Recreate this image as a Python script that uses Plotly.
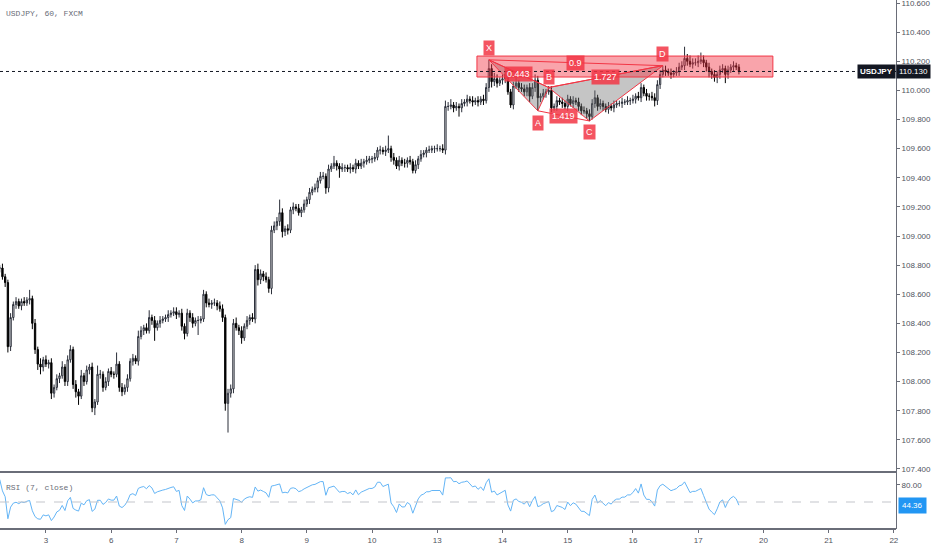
import pandas as pd
import plotly.graph_objects as go
from plotly.subplots import make_subplots

# hourly closes, USDJPY FXCM, from 2 Jan 2020 00:00 (first 7 bars sit left of the view)
closes = [
    108.62, 108.66, 108.70, 108.68, 108.74, 108.72, 108.78,
    108.78, 108.72, 108.68, 108.24, 108.44, 108.53, 108.55, 108.52, 108.55, 108.54,
    108.56, 108.57, 108.40, 108.22, 108.12, 108.10, 108.15, 108.12, 108.13, 107.92,
    107.96, 108.02, 108.04, 108.10, 108.00, 108.15, 108.22, 107.98, 107.93, 107.90,
    108.04, 108.00, 108.08, 108.10, 107.82, 107.86, 108.05, 108.05, 107.96, 108.00,
    108.07, 108.05, 108.05, 108.12, 107.96, 107.93, 107.96, 108.02, 108.14, 108.16,
    108.14, 108.31, 108.35, 108.37, 108.35, 108.44, 108.42, 108.37, 108.40, 108.42,
    108.43, 108.44, 108.46, 108.47, 108.48, 108.46, 108.47, 108.38, 108.33, 108.47,
    108.44, 108.40, 108.42, 108.42, 108.43, 108.60, 108.54, 108.53, 108.54, 108.54,
    108.52,
    108.50, 108.44, 107.85, 107.92, 107.95, 108.40, 108.37, 108.35, 108.30, 108.38,
    108.42, 108.44, 108.43, 108.77, 108.70, 108.74, 108.72, 108.70, 108.64, 109.04,
    109.07, 109.10, 109.16, 109.03, 109.05, 109.04,
    109.18, 109.20, 109.19, 109.16, 109.18, 109.22, 109.25, 109.30, 109.32, 109.33,
    109.38, 109.41, 109.41, 109.33, 109.46, 109.48, 109.50, 109.48, 109.46, 109.47,
    109.47, 109.46, 109.47, 109.46, 109.50, 109.48, 109.50, 109.51, 109.52, 109.53,
    109.53, 109.54, 109.59, 109.59, 109.58, 109.59, 109.60, 109.54, 109.52, 109.48,
    109.52, 109.50, 109.50, 109.52, 109.51, 109.45, 109.49, 109.53, 109.56, 109.57,
    109.59, 109.59, 109.60, 109.60, 109.60, 109.60, 109.59, 109.89, 109.89, 109.90,
    109.88, 109.89, 109.88, 109.91, 109.92, 109.94, 109.93, 109.92, 109.93, 109.92,
    109.94, 109.93, 110.02, 110.15, 110.06, 110.08, 110.05, 110.07, 110.08, 110.11,
    109.99, 109.90, 110.03, 110.05, 110.02, 110.01, 109.99, 110.02, 109.96, 110.02,
    110.07, 109.95, 109.96, 109.98, 109.99, 110.00, 109.88, 109.89, 109.93, 109.92,
    109.91, 109.89, 109.94, 109.91, 109.93, 109.92, 109.89,
    109.86, 109.86, 109.84, 109.82, 109.91, 109.95, 109.89, 109.91, 109.89, 109.87,
    109.89, 109.88, 109.90, 109.91, 109.91, 109.92, 109.92, 109.93, 109.93, 109.94,
    109.96, 109.95, 110.02, 109.98, 109.96, 109.96, 109.95, 109.93, 110.04, 110.11,
    110.14, 110.13, 110.12, 110.11, 110.12, 110.13, 110.16, 110.17, 110.22, 110.20,
    110.18, 110.19, 110.19, 110.20, 110.21, 110.19, 110.16, 110.13, 110.11, 110.09,
    110.11, 110.14, 110.15, 110.11, 110.14, 110.16, 110.17, 110.16, 110.13,
]
first_open = 108.60

# wick lengths in pips above / below the candle body
upper_wick = [
    2, 3, 2, 3, 2, 3, 2, 2, 3, 2,  2, 3, 2, 3, 2, 2, 3, 2, 6, 2,
    3, 2, 4, 2, 3, 2, 3, 2, 3, 2,  4, 2, 3, 3, 2, 3, 2, 4, 2, 3,
    2, 3, 2, 6, 3, 2, 3, 2, 3, 2,  8, 2, 3, 2, 3, 2, 3, 2, 4, 3,
    2, 3, 5, 2, 3, 2, 3, 2, 2, 3,  2, 3, 3, 2, 3, 2, 3, 2, 3, 2,
    3, 2, 3, 2, 3, 2, 3, 2, 3, 3,  2, 3, 3, 3, 4, 2, 3, 2, 3, 2,
    3, 3, 4, 3, 2, 3, 2, 3, 3, 3,  9, 3, 2, 3, 2, 3, 2, 3, 2, 3,
    2, 3, 2, 3, 2, 3, 3, 2, 3, 2,  5, 2, 2, 3, 2, 2, 3, 2, 3, 2,
    3, 2, 3, 2, 2, 3, 2, 3, 2, 3,  9, 2, 3, 2, 3, 2, 3, 2, 3, 2,
    3, 2, 3, 2, 2, 3, 2, 2, 3, 2,  3, 4, 3, 4, 2, 3, 2, 3, 2, 3,
    2, 3, 2, 3, 2, 3, 3, 6, 3, 4,  3, 2, 3, 2, 3, 2, 3, 4, 2, 3,
    3, 2, 3, 3, 4, 3, 2, 3, 2, 3,  3, 2, 3, 2, 3, 2, 3, 2, 3, 2,
    3, 2, 3, 2, 3, 3, 5, 2, 3, 2,  2, 3, 2, 3, 2, 2, 3, 2, 3, 2,
    3, 2, 3, 3, 2, 3, 2, 3, 3, 3,  3, 3, 3, 2, 3, 2, 3, 3, 3, 8,
    3, 4, 3, 3, 4, 5, 3, 2, 3, 2,  3, 2, 3, 3, 2, 3, 2, 3, 2, 2,
]
lower_wick = [
    2, 2, 3, 2, 2, 3, 2, 3, 2, 3,  4, 3, 2, 3, 2, 3, 2, 2, 3, 4,
    3, 4, 5, 3, 2, 3, 4, 3, 2, 3,  2, 3, 3, 2, 3, 4, 6, 2, 3, 2,
    3, 3, 5, 2, 3, 3, 2, 3, 2, 3,  2, 3, 3, 2, 3, 2, 3, 2, 3, 2,
    3, 2, 2, 3, 9, 2, 3, 2, 2, 3,  2, 2, 3, 2, 3, 4, 2, 3, 3, 2,
    10, 2, 2, 3, 2, 3, 2, 3, 2, 3,  5, 20, 3, 3, 2, 3, 4, 2, 2, 3,
    2, 3, 4, 3, 3, 2, 3, 4, 2, 3,  3, 4, 3, 3, 2, 3, 2, 2, 3, 2,
    2, 3, 2, 2, 3, 2, 2, 4, 3, 2,  2, 3, 6, 2, 3, 2, 3, 2, 3, 2,
    2, 3, 2, 2, 3, 2, 2, 3, 2, 3,  2, 3, 3, 2, 3, 2, 3, 3, 2, 2,
    2, 3, 2, 2, 3, 2, 2, 3, 2, 2,  2, 3, 3, 2, 3, 2, 6, 3, 2, 3,
    2, 3, 2, 3, 2, 3, 2, 3, 4, 3,  3, 2, 3, 3, 2, 2, 3, 2, 3, 2,
    3, 3, 4, 2, 3, 9, 3, 2, 3, 2,  3, 2, 3, 2, 3, 2, 3, 2, 3, 2,
    3, 3, 2, 3, 3, 2, 3, 3, 2, 3,  2, 3, 2, 3, 2, 2, 3, 2, 2, 3,
    2, 3, 2, 3, 2, 3, 3, 2, 4, 3,  3, 2, 3, 2, 3, 2, 2, 3, 2, 3,
    3, 2, 3, 2, 3, 2, 3, 3, 4, 3,  3, 4, 3, 2, 6, 3, 2, 3, 2, 2,
]

# XABCD pattern (bar index, price)
pattern_labels = ["X", "A", "B", "C", "D"]
pattern_bars = [187, 205, 209, 224, 251]
pattern_prices = [110.21, 109.86, 110.02, 109.79, 110.17]
ratio_pairs = [("X", "B"), ("A", "C"), ("B", "D"), ("X", "D")]
ratio_texts = ["0.443", "1.419", "1.727", "0.9"]

# resistance zone
zone_bars = [182.6, 291.5]
zone_prices = [110.092, 110.236]

day_ticks = ["2020-01-03", "2020-01-06", "2020-01-07", "2020-01-08", "2020-01-09",
             "2020-01-10", "2020-01-13", "2020-01-14", "2020-01-15", "2020-01-16",
             "2020-01-17", "2020-01-20", "2020-01-21", "2020-01-22"]
day_labels = ["3", "6", "7", "8", "9", "10", "13", "14", "15", "16", "17", "20", "21", "22"]

RED = "#f23645"
GREY_TXT = "#50535e"
AXIS = "#6a6d78"
FONT = "Liberation Sans"

all_hours = pd.date_range("2020-01-02", "2020-01-25", freq="h", inclusive="left")
trading_hours = all_hours[all_hours.dayofweek < 5]
times = trading_hours[:len(closes)]


def at(pos):
    base = trading_hours[int(pos)]
    return base + pd.Timedelta(hours=pos - int(pos))


opens = [first_open] + closes[:-1]
highs = [max(o, c) + u / 100 for o, c, u in zip(opens, closes, upper_wick)]
lows = [min(o, c) - w / 100 for o, c, w in zip(opens, closes, lower_wick)]

# RSI(7) on close, Wilder smoothing
s = pd.Series(closes)
delta = s.diff()
gain = delta.clip(lower=0).ewm(alpha=1 / 7, adjust=False).mean()
loss = (-delta.clip(upper=0)).ewm(alpha=1 / 7, adjust=False).mean()
rsi = 100 - 100 / (1 + gain / loss)

split = 57 / 529
fig = make_subplots(rows=2, cols=1, shared_xaxes=True, vertical_spacing=0,
                    row_heights=[1 - split, split])

fig.add_trace(go.Candlestick(
    x=times, open=opens, high=highs, low=lows, close=closes,
    increasing=dict(line=dict(color="#2a2e39", width=1), fillcolor="#ffffff"),
    decreasing=dict(line=dict(color="#000000", width=1), fillcolor="#000000"),
    whiskerwidth=0, showlegend=False, hoverinfo="skip"), row=1, col=1)

pt = {lab: (at(b), p) for lab, b, p in zip(pattern_labels, pattern_bars, pattern_prices)}

# grey triangles X-A-B and B-C-D
for tri in [("X", "A", "B"), ("B", "C", "D")]:
    fig.add_trace(go.Scatter(
        x=[pt[k][0] for k in tri] + [pt[tri[0]][0]],
        y=[pt[k][1] for k in tri] + [pt[tri[0]][1]],
        mode="lines", fill="toself", fillcolor="rgba(110,110,110,0.40)",
        line=dict(color=RED, width=1), showlegend=False, hoverinfo="skip"), row=1, col=1)

for a, b in ratio_pairs:
    fig.add_trace(go.Scatter(
        x=[pt[a][0], pt[b][0]], y=[pt[a][1], pt[b][1]], mode="lines",
        line=dict(color=RED, width=1), showlegend=False, hoverinfo="skip"), row=1, col=1)

fig.add_trace(go.Scatter(
    x=times[7:], y=rsi[7:], mode="lines", line=dict(color="#64b5f6", width=1),
    showlegend=False, hoverinfo="skip"), row=2, col=1)

# zone rectangle
fig.add_shape(type="rect", xref="x", yref="y", x0=at(zone_bars[0]), x1=at(zone_bars[1]),
              y0=zone_prices[0], y1=zone_prices[1], fillcolor="rgba(242,54,69,0.45)",
              line=dict(color=RED, width=1), layer="above")

last_close = closes[-1]
fig.add_shape(type="line", xref="paper", yref="y", x0=0, x1=1, y0=last_close, y1=last_close,
              line=dict(color="#131722", width=1, dash="dot"))
fig.add_shape(type="line", xref="paper", yref="y2", x0=0, x1=1, y0=50, y1=50,
              line=dict(color="#c3c5cb", width=1, dash="dash"))
# pane separators
fig.add_shape(type="line", xref="paper", yref="paper", x0=0, x1=1, y0=split, y1=split,
              line=dict(color=AXIS, width=2))
fig.add_shape(type="line", xref="paper", yref="paper", x0=0, x1=1, y0=0, y1=0,
              line=dict(color=AXIS, width=2))

offsets = {"X": 12, "A": -12, "B": 11, "C": -11, "D": 12}
for lab in pattern_labels:
    fig.add_annotation(x=pt[lab][0], y=pt[lab][1], xref="x", yref="y", text=lab,
                       showarrow=False, yshift=offsets[lab], bgcolor="rgba(242,54,69,0.85)",
                       borderpad=2, font=dict(family=FONT, size=9, color="#ffffff"))
for (a, b), txt in zip(ratio_pairs, ratio_texts):
    xm = pt[a][0] + (pt[b][0] - pt[a][0]) / 2
    ym = (pt[a][1] + pt[b][1]) / 2
    fig.add_annotation(x=xm, y=ym, xref="x", yref="y", text=txt, showarrow=False,
                       bgcolor="rgba(242,54,69,0.85)", borderpad=2,
                       font=dict(family=FONT, size=9, color="#ffffff"))

fig.add_annotation(x=1, y=last_close, xref="paper", yref="y", text="<b>USDJPY</b>",
                   xanchor="right", showarrow=False, bgcolor="#131722", borderpad=2,
                   font=dict(family=FONT, size=8, color="#ffffff"))
fig.add_annotation(x=1, y=last_close, xref="paper", yref="y", text=f"{last_close:.3f}",
                   xanchor="left", showarrow=False, bgcolor="#131722", borderpad=2,
                   font=dict(family=FONT, size=8, color="#ffffff"))
last_rsi = float(rsi.iloc[-1])
fig.add_annotation(x=1, y=last_rsi, xref="paper", yref="y2", text=f"{last_rsi:.2f}",
                   xanchor="left", showarrow=False, bgcolor="#2196f3", borderpad=3,
                   xshift=2, font=dict(family=FONT, size=8, color="#ffffff"))

fig.add_annotation(x=0.004, y=1, xref="paper", yref="paper", yshift=-7, yanchor="top",
                   xanchor="left", text="USDJPY, 60, FXCM", showarrow=False,
                   font=dict(family="Liberation Mono", size=8, color=AXIS))
fig.add_annotation(x=0.004, y=split, xref="paper", yref="paper", yshift=-9, yanchor="top",
                   xanchor="left", text="RSI (7, close)", showarrow=False,
                   font=dict(family="Liberation Mono", size=8, color=AXIS))

fig.update_xaxes(rangebreaks=[dict(bounds=["sat", "mon"])], range=[at(7.1), at(336.8)],
                 showgrid=False, zeroline=False, rangeslider_visible=False)
fig.update_xaxes(tickvals=pd.to_datetime(day_ticks), ticktext=day_labels, ticks="outside",
                 ticklen=3, tickcolor=AXIS,
                 tickfont=dict(family=FONT, size=8, color=GREY_TXT), row=2, col=1)
fig.update_xaxes(showticklabels=False, row=1, col=1)

fig.update_yaxes(side="right", range=[107.379, 110.621], tick0=107.4, dtick=0.2,
                 tickformat=".3f", ticks="outside", ticklen=3, tickcolor=AXIS,
                 ticklabeloverflow="allow",
                 showline=True, linecolor=AXIS, linewidth=1, showgrid=False,
                 zeroline=False, tickfont=dict(family=FONT, size=8, color=GREY_TXT),
                 row=1, col=1)
fig.update_yaxes(side="right", range=[2.4, 102.9], tickvals=[80], ticktext=["80.00"],
                 ticks="outside", ticklen=3, tickcolor=AXIS, showline=True,
                 linecolor=AXIS, linewidth=1, showgrid=False, zeroline=False,
                 tickfont=dict(family=FONT, size=8, color=GREY_TXT), row=2, col=1)

fig.update_layout(width=932, height=550, margin=dict(l=0, r=36, t=0, b=21),
                  paper_bgcolor="#ffffff", plot_bgcolor="#ffffff", showlegend=False)

# the page body gets the browser's default 8px margin; drop it so the figure sits at 0,0
fig.write_html("out.html", config={"displayModeBar": False},
               post_script="document.body.style.margin='0';")
